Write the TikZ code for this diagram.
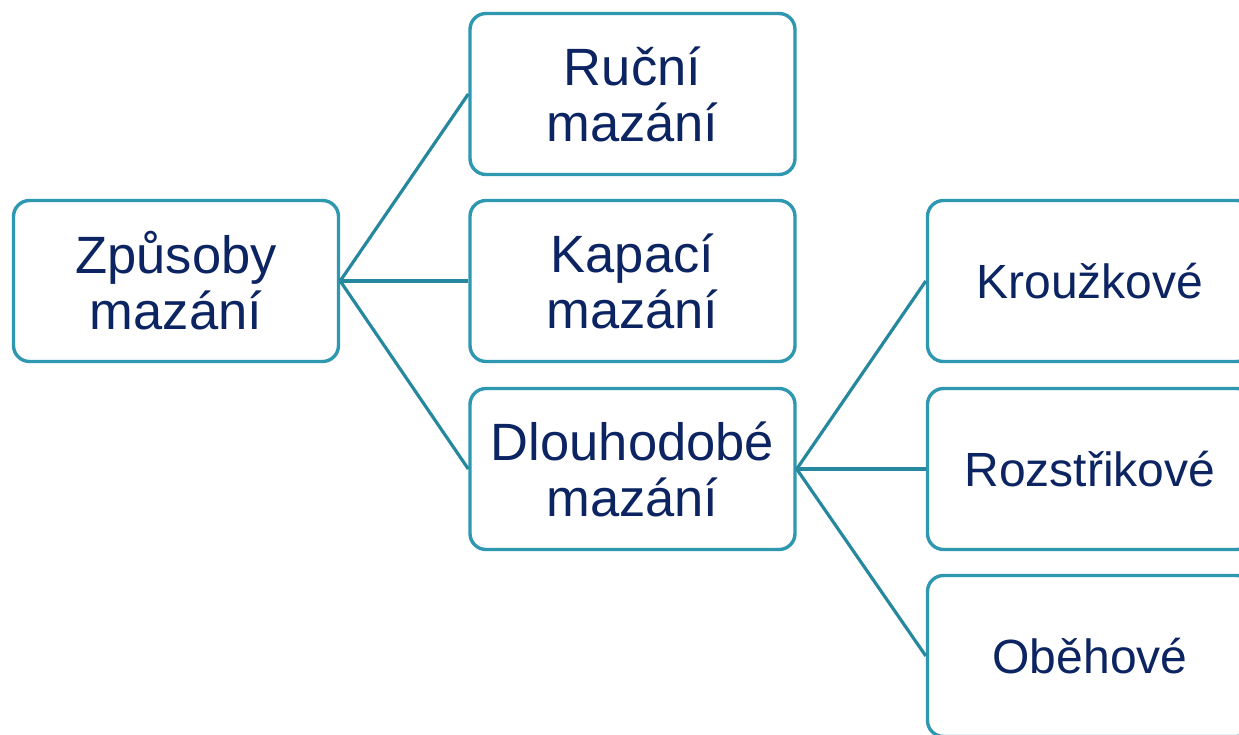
\documentclass[tikz,border=0pt]{standalone}
\usepackage{fontspec}
\setmainfont{Liberation Sans}
\definecolor{boxline}{RGB}{46,152,176}
\definecolor{conn}{RGB}{38,136,158}
\definecolor{txt}{RGB}{12,36,98}
\begin{document}
\begin{tikzpicture}[x=1pt,y=-1pt,
  box/.style={draw=boxline, line width=3.4pt, rounded corners=16pt, fill=white,
    minimum width=325pt, minimum height=161pt, inner sep=0pt, align=center,
    text=txt, font=\fontsize{52.5}{56}\selectfont},
  smallbox/.style={box, font=\fontsize{48}{56}\selectfont},
  link/.style={draw=conn, line width=3.2pt}]
\useasboundingbox (0,0) rectangle (1239,735);
\clip (0,0) rectangle (1239,735);
\node[box] (root) at (176,281) {Způsoby\\mazání};
\node[box] (ruc) at (632.5,94) {Ruční\\mazání};
\node[box] (kap) at (632.5,281) {Kapací\\mazání};
\node[box] (dlo) at (632.5,469) {Dlouhodobé\\mazání};
\node[smallbox] (kro) at (1090,281) {Kroužkové};
\node[smallbox] (roz) at (1090,469) {Rozstřikové};
\node[smallbox] (obe) at (1090,656) {Oběhové};
\draw[link] (root.east) -- (ruc.west);
\draw[link] (root.east) -- (kap.west);
\draw[link] (root.east) -- (dlo.west);
\draw[link] (dlo.east) -- (kro.west);
\draw[link] (dlo.east) -- (roz.west);
\draw[link] (dlo.east) -- (obe.west);
\end{tikzpicture}
\end{document}
